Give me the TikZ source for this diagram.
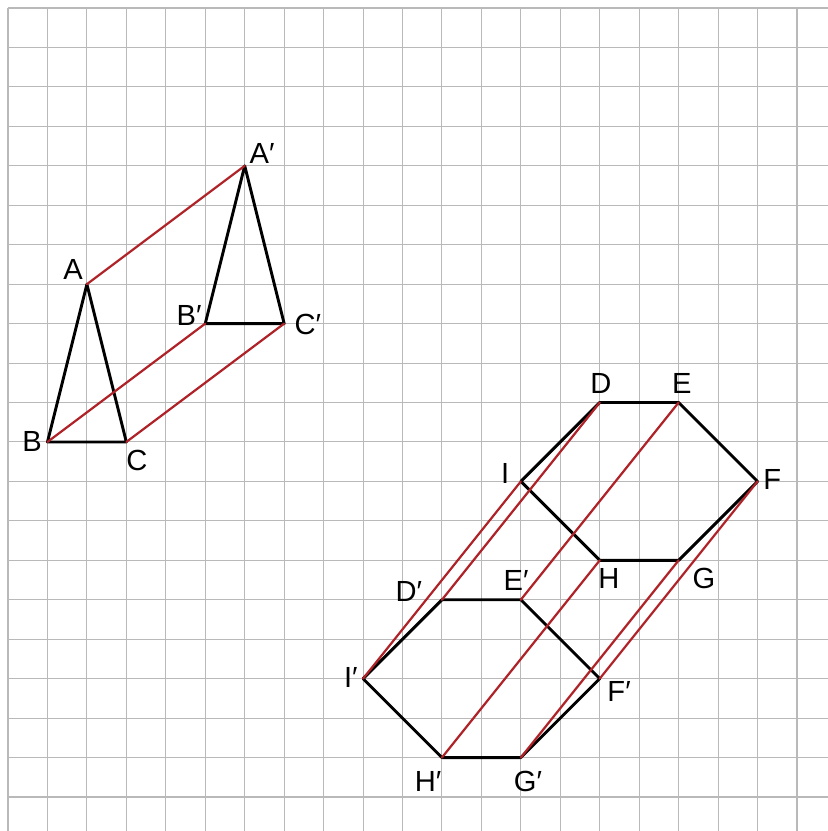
\documentclass[tikz,border=0pt]{standalone}
\usepackage{fontspec}
\setmainfont{Liberation Sans}
\definecolor{gridgray}{RGB}{185,185,185}
\definecolor{transred}{RGB}{175,35,40}
\tikzset{
  gridline/.style={draw=gridgray,line width=0.75pt},
  shape edge/.style={draw=black,line width=2.1pt,line join=round,line cap=round},
  trans line/.style={draw=transred,line width=1.6pt,line cap=round},
  ptlabel/.style={inner sep=0pt,font=\fontsize{21}{25}\selectfont}
}
\begin{document}
\begin{tikzpicture}
\useasboundingbox (-0.203,0.203) rectangle (20.786,-20.862);
% grid
\foreach \i in {0,...,20} {
  \draw[gridline] (\i,0) -- (\i,-20.862);
  \draw[gridline] (0,-\i) -- (20.786,-\i);
}
% points
\coordinate (A) at (2,-7);
\coordinate (B) at (1,-11);
\coordinate (C) at (3,-11);
\coordinate (A1) at (6,-4);
\coordinate (B1) at (5,-8);
\coordinate (C1) at (7,-8);
\coordinate (D) at (15,-10);
\coordinate (E) at (17,-10);
\coordinate (F) at (19,-12);
\coordinate (G) at (17,-14);
\coordinate (H) at (15,-14);
\coordinate (I) at (13,-12);
\coordinate (D1) at (11,-15);
\coordinate (E1) at (13,-15);
\coordinate (F1) at (15,-17);
\coordinate (G1) at (13,-19);
\coordinate (H1) at (11,-19);
\coordinate (I1) at (9,-17);
% shapes
\draw[shape edge] (A) -- (B) -- (C) -- cycle;
\draw[shape edge] (A1) -- (B1) -- (C1) -- cycle;
\draw[shape edge] (D) -- (E) -- (F) -- (G) -- (H) -- (I) -- cycle;
\draw[shape edge] (D1) -- (E1) -- (F1) -- (G1) -- (H1) -- (I1) -- cycle;
% translation lines
\draw[trans line] (A) -- (A1);
\draw[trans line] (B) -- (B1);
\draw[trans line] (C) -- (C1);
\draw[trans line] (D) -- (D1);
\draw[trans line] (E) -- (E1);
\draw[trans line] (F) -- (F1);
\draw[trans line] (G) -- (G1);
\draw[trans line] (H) -- (H1);
\draw[trans line] (I) -- (I1);
% labels
\node[ptlabel] (lA) at (1.65,-6.62) {A};
\node[ptlabel] (lB) at (0.61,-10.98) {B};
\node[ptlabel] (lC) at (3.27,-11.47) {C};
\node[ptlabel] (lA1) at (6.44,-3.68) {A′};
\node[ptlabel] (lB1) at (4.59,-7.80) {B′};
\node[ptlabel] (lC1) at (7.60,-8.02) {C′};
\node[ptlabel] (lD) at (15.03,-9.51) {D};
\node[ptlabel] (lE) at (17.08,-9.51) {E};
\node[ptlabel] (lF) at (19.37,-11.95) {F};
\node[ptlabel] (lG) at (17.64,-14.46) {G};
\node[ptlabel] (lH) at (15.23,-14.46) {H};
\node[ptlabel] (lI) at (12.60,-11.80) {I};
\node[ptlabel] (lD1) at (10.16,-14.79) {D′};
\node[ptlabel] (lE1) at (12.88,-14.51) {E′};
\node[ptlabel] (lF1) at (15.49,-17.33) {F′};
\node[ptlabel] (lG1) at (13.18,-19.61) {G′};
\node[ptlabel] (lH1) at (10.65,-19.61) {H′};
\node[ptlabel] (lI1) at (8.69,-16.97) {I′};
\end{tikzpicture}
\end{document}
